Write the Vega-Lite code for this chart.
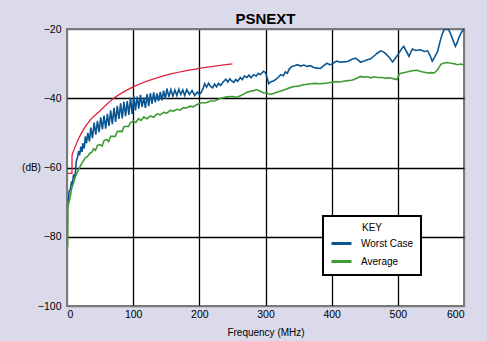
{
  "$schema": "https://vega.github.io/schema/vega-lite/v6.json",
  "width": 397,
  "height": 277,
  "autosize": {"type": "none"},
  "padding": {"left": 67, "top": 29, "right": 23, "bottom": 35},
  "background": "#dadaea",
  "title": {"text": "PSNEXT", "fontSize": 15, "fontWeight": "bold", "font": "Liberation Sans", "anchor": "middle", "offset": -3, "color": "black"},
  "config": {
    "view": {"fill": "white", "stroke": "#7a7a7a", "strokeWidth": 2},
    "font": "Liberation Sans",
    "legend": {"strokeWidth": 2}
  },
  "datasets": {
    "meas": [
      {"series": "Worst Case", "f": 2, "db": -71}, {"series": "Worst Case", "f": 3, "db": -67}, {"series": "Worst Case", "f": 5, "db": -66.3}, {"series": "Worst Case", "f": 7, "db": -64}, {"series": "Worst Case", "f": 8, "db": -65}, {"series": "Worst Case", "f": 10, "db": -62}, {"series": "Worst Case", "f": 12, "db": -63}, {"series": "Worst Case", "f": 14, "db": -58.2}, {"series": "Worst Case", "f": 16, "db": -57}, {"series": "Worst Case", "f": 17.6, "db": -55.3}, {"series": "Worst Case", "f": 19, "db": -56.5}, {"series": "Worst Case", "f": 21, "db": -54}, {"series": "Worst Case", "f": 22.7, "db": -55.5}, {"series": "Worst Case", "f": 24, "db": -53}, {"series": "Worst Case", "f": 26, "db": -54.5}, {"series": "Worst Case", "f": 27.7, "db": -51}, {"series": "Worst Case", "f": 29.5, "db": -53}, {"series": "Worst Case", "f": 31.5, "db": -50}, {"series": "Worst Case", "f": 34, "db": -52.5}, {"series": "Worst Case", "f": 36, "db": -48.5}, {"series": "Worst Case", "f": 38.5, "db": -51.5}, {"series": "Worst Case", "f": 41, "db": -47}, {"series": "Worst Case", "f": 43.5, "db": -50.5}, {"series": "Worst Case", "f": 46, "db": -46.5}, {"series": "Worst Case", "f": 48.5, "db": -49.8}, {"series": "Worst Case", "f": 51, "db": -45.5}, {"series": "Worst Case", "f": 53.5, "db": -49}, {"series": "Worst Case", "f": 56, "db": -45}, {"series": "Worst Case", "f": 58.5, "db": -48.8}, {"series": "Worst Case", "f": 61, "db": -44.5}, {"series": "Worst Case", "f": 63.5, "db": -48}, {"series": "Worst Case", "f": 66, "db": -43.5}, {"series": "Worst Case", "f": 68.5, "db": -47.5}, {"series": "Worst Case", "f": 71, "db": -42.8}, {"series": "Worst Case", "f": 73.5, "db": -46.8}, {"series": "Worst Case", "f": 76, "db": -42.2}, {"series": "Worst Case", "f": 78.5, "db": -46}, {"series": "Worst Case", "f": 81, "db": -41.5}, {"series": "Worst Case", "f": 83.5, "db": -45.8}, {"series": "Worst Case", "f": 86, "db": -41}, {"series": "Worst Case", "f": 88.5, "db": -45.2}, {"series": "Worst Case", "f": 91, "db": -40.8}, {"series": "Worst Case", "f": 93.5, "db": -44.8}, {"series": "Worst Case", "f": 96, "db": -39.8}, {"series": "Worst Case", "f": 98.5, "db": -44.5}, {"series": "Worst Case", "f": 101, "db": -39.3}, {"series": "Worst Case", "f": 103.5, "db": -43.5}, {"series": "Worst Case", "f": 106, "db": -39.5}, {"series": "Worst Case", "f": 108.5, "db": -43}, {"series": "Worst Case", "f": 111, "db": -39}, {"series": "Worst Case", "f": 113.5, "db": -42.5}, {"series": "Worst Case", "f": 116, "db": -39.8}, {"series": "Worst Case", "f": 118.5, "db": -42.8}, {"series": "Worst Case", "f": 121, "db": -38.8}, {"series": "Worst Case", "f": 123.5, "db": -42.3}, {"series": "Worst Case", "f": 126, "db": -38.5}, {"series": "Worst Case", "f": 128.5, "db": -41.6}, {"series": "Worst Case", "f": 131, "db": -38.3}, {"series": "Worst Case", "f": 133.5, "db": -41.2}, {"series": "Worst Case", "f": 136, "db": -38.6}, {"series": "Worst Case", "f": 138.5, "db": -40.8}, {"series": "Worst Case", "f": 141, "db": -38.2}, {"series": "Worst Case", "f": 143.5, "db": -40.6}, {"series": "Worst Case", "f": 146, "db": -37.8}, {"series": "Worst Case", "f": 148.5, "db": -40.2}, {"series": "Worst Case", "f": 151, "db": -37.2}, {"series": "Worst Case", "f": 154, "db": -39.6}, {"series": "Worst Case", "f": 157, "db": -37.5}, {"series": "Worst Case", "f": 160, "db": -39.4}, {"series": "Worst Case", "f": 163, "db": -37.6}, {"series": "Worst Case", "f": 166, "db": -39.2}, {"series": "Worst Case", "f": 169, "db": -37.4}, {"series": "Worst Case", "f": 172, "db": -38.9}, {"series": "Worst Case", "f": 175, "db": -37.6}, {"series": "Worst Case", "f": 178, "db": -39.2}, {"series": "Worst Case", "f": 181, "db": -37.5}, {"series": "Worst Case", "f": 185, "db": -38.9}, {"series": "Worst Case", "f": 189, "db": -37.8}, {"series": "Worst Case", "f": 193, "db": -39.2}, {"series": "Worst Case", "f": 197, "db": -38.2}, {"series": "Worst Case", "f": 200, "db": -38.9}, {"series": "Worst Case", "f": 203, "db": -38.3}, {"series": "Worst Case", "f": 206, "db": -37}, {"series": "Worst Case", "f": 208, "db": -35.8}, {"series": "Worst Case", "f": 211, "db": -36.8}, {"series": "Worst Case", "f": 214, "db": -35.7}, {"series": "Worst Case", "f": 217, "db": -36.6}, {"series": "Worst Case", "f": 220, "db": -37.0}, {"series": "Worst Case", "f": 223, "db": -35.9}, {"series": "Worst Case", "f": 226, "db": -36.7}, {"series": "Worst Case", "f": 229, "db": -35.7}, {"series": "Worst Case", "f": 232, "db": -36.3}, {"series": "Worst Case", "f": 236, "db": -35.3}, {"series": "Worst Case", "f": 240, "db": -34.5}, {"series": "Worst Case", "f": 243, "db": -35.3}, {"series": "Worst Case", "f": 246, "db": -34.4}, {"series": "Worst Case", "f": 249, "db": -35.0}, {"series": "Worst Case", "f": 252, "db": -35.4}, {"series": "Worst Case", "f": 255, "db": -34.6}, {"series": "Worst Case", "f": 258, "db": -35.1}, {"series": "Worst Case", "f": 262, "db": -34.0}, {"series": "Worst Case", "f": 265, "db": -34.6}, {"series": "Worst Case", "f": 268, "db": -33.6}, {"series": "Worst Case", "f": 272, "db": -34.0}, {"series": "Worst Case", "f": 275, "db": -33.3}, {"series": "Worst Case", "f": 278, "db": -34.1}, {"series": "Worst Case", "f": 282, "db": -33.2}, {"series": "Worst Case", "f": 286, "db": -33.6}, {"series": "Worst Case", "f": 289, "db": -32.8}, {"series": "Worst Case", "f": 292, "db": -33.2}, {"series": "Worst Case", "f": 297, "db": -32.2}, {"series": "Worst Case", "f": 300, "db": -32.6}, {"series": "Worst Case", "f": 303, "db": -34.5}, {"series": "Worst Case", "f": 305, "db": -35.8}, {"series": "Worst Case", "f": 308, "db": -35.2}, {"series": "Worst Case", "f": 312, "db": -35.0}, {"series": "Worst Case", "f": 316, "db": -34.5}, {"series": "Worst Case", "f": 320, "db": -33.8}, {"series": "Worst Case", "f": 323, "db": -33.2}, {"series": "Worst Case", "f": 327, "db": -33.5}, {"series": "Worst Case", "f": 330, "db": -32.4}, {"series": "Worst Case", "f": 333, "db": -32.8}, {"series": "Worst Case", "f": 336, "db": -31.5}, {"series": "Worst Case", "f": 340, "db": -30.8}, {"series": "Worst Case", "f": 344, "db": -30.6}, {"series": "Worst Case", "f": 348, "db": -30.3}, {"series": "Worst Case", "f": 353, "db": -30.7}, {"series": "Worst Case", "f": 358, "db": -30.4}, {"series": "Worst Case", "f": 363, "db": -30.8}, {"series": "Worst Case", "f": 368, "db": -30.6}, {"series": "Worst Case", "f": 373, "db": -31.1}, {"series": "Worst Case", "f": 378, "db": -31.3}, {"series": "Worst Case", "f": 383, "db": -31.4}, {"series": "Worst Case", "f": 388, "db": -30.6}, {"series": "Worst Case", "f": 393, "db": -29.9}, {"series": "Worst Case", "f": 397, "db": -30.3}, {"series": "Worst Case", "f": 401, "db": -30.1}, {"series": "Worst Case", "f": 405, "db": -29.5}, {"series": "Worst Case", "f": 408, "db": -29.3}, {"series": "Worst Case", "f": 413, "db": -29.6}, {"series": "Worst Case", "f": 418, "db": -29.5}, {"series": "Worst Case", "f": 424, "db": -29.4}, {"series": "Worst Case", "f": 430, "db": -28.8}, {"series": "Worst Case", "f": 436, "db": -28.4}, {"series": "Worst Case", "f": 440, "db": -29.0}, {"series": "Worst Case", "f": 444, "db": -29.6}, {"series": "Worst Case", "f": 450, "db": -29.2}, {"series": "Worst Case", "f": 455, "db": -28.8}, {"series": "Worst Case", "f": 459, "db": -28.6}, {"series": "Worst Case", "f": 464, "db": -27.8}, {"series": "Worst Case", "f": 469, "db": -27}, {"series": "Worst Case", "f": 474, "db": -26.3}, {"series": "Worst Case", "f": 478, "db": -26.6}, {"series": "Worst Case", "f": 482, "db": -27.2}, {"series": "Worst Case", "f": 487, "db": -28.2}, {"series": "Worst Case", "f": 492, "db": -29.5}, {"series": "Worst Case", "f": 496, "db": -28.5}, {"series": "Worst Case", "f": 502, "db": -26.9}, {"series": "Worst Case", "f": 506, "db": -25.6}, {"series": "Worst Case", "f": 509, "db": -25.0}, {"series": "Worst Case", "f": 513, "db": -26.5}, {"series": "Worst Case", "f": 517, "db": -27.9}, {"series": "Worst Case", "f": 520, "db": -26.5}, {"series": "Worst Case", "f": 522, "db": -25.8}, {"series": "Worst Case", "f": 527, "db": -26.2}, {"series": "Worst Case", "f": 534, "db": -26.0}, {"series": "Worst Case", "f": 540, "db": -26.5}, {"series": "Worst Case", "f": 545, "db": -26.3}, {"series": "Worst Case", "f": 549, "db": -27.8}, {"series": "Worst Case", "f": 552, "db": -29.3}, {"series": "Worst Case", "f": 556, "db": -28}, {"series": "Worst Case", "f": 560, "db": -26.5}, {"series": "Worst Case", "f": 564, "db": -23.5}, {"series": "Worst Case", "f": 567, "db": -21.5}, {"series": "Worst Case", "f": 570, "db": -20.2}, {"series": "Worst Case", "f": 574, "db": -20.0}, {"series": "Worst Case", "f": 577, "db": -20.3}, {"series": "Worst Case", "f": 580, "db": -21.5}, {"series": "Worst Case", "f": 584, "db": -23.5}, {"series": "Worst Case", "f": 587, "db": -25.0}, {"series": "Worst Case", "f": 590, "db": -23.8}, {"series": "Worst Case", "f": 592, "db": -22.6}, {"series": "Worst Case", "f": 596, "db": -21.0}, {"series": "Worst Case", "f": 600, "db": -20},
      {"series": "Average", "f": 1, "db": -83}, {"series": "Average", "f": 1.5, "db": -70}, {"series": "Average", "f": 3, "db": -70}, {"series": "Average", "f": 5, "db": -68.3}, {"series": "Average", "f": 7, "db": -66}, {"series": "Average", "f": 10, "db": -64.4}, {"series": "Average", "f": 12, "db": -63}, {"series": "Average", "f": 15, "db": -61.5}, {"series": "Average", "f": 18, "db": -60.5}, {"series": "Average", "f": 20, "db": -59.6}, {"series": "Average", "f": 24, "db": -58.3}, {"series": "Average", "f": 27.7, "db": -57.2}, {"series": "Average", "f": 31, "db": -56.8}, {"series": "Average", "f": 35, "db": -55.8}, {"series": "Average", "f": 38, "db": -55.5}, {"series": "Average", "f": 40, "db": -54.6}, {"series": "Average", "f": 43, "db": -55.0}, {"series": "Average", "f": 46, "db": -53.6}, {"series": "Average", "f": 50, "db": -53.4}, {"series": "Average", "f": 53, "db": -53.8}, {"series": "Average", "f": 56, "db": -52.2}, {"series": "Average", "f": 60, "db": -51.9}, {"series": "Average", "f": 63, "db": -52.5}, {"series": "Average", "f": 66, "db": -51.0}, {"series": "Average", "f": 70, "db": -51}, {"series": "Average", "f": 73, "db": -51.0}, {"series": "Average", "f": 76, "db": -49.6}, {"series": "Average", "f": 80, "db": -49.5}, {"series": "Average", "f": 83, "db": -49.7}, {"series": "Average", "f": 86, "db": -48.2}, {"series": "Average", "f": 90, "db": -48.1}, {"series": "Average", "f": 93, "db": -48.2}, {"series": "Average", "f": 96, "db": -47.0}, {"series": "Average", "f": 100, "db": -46.6}, {"series": "Average", "f": 104, "db": -47.0}, {"series": "Average", "f": 108, "db": -45.9}, {"series": "Average", "f": 112, "db": -46.4}, {"series": "Average", "f": 116, "db": -45.4}, {"series": "Average", "f": 121, "db": -45.9}, {"series": "Average", "f": 126, "db": -45.1}, {"series": "Average", "f": 131, "db": -45.5}, {"series": "Average", "f": 136, "db": -44.5}, {"series": "Average", "f": 141, "db": -44.8}, {"series": "Average", "f": 146, "db": -44.1}, {"series": "Average", "f": 151, "db": -44.3}, {"series": "Average", "f": 156, "db": -43.5}, {"series": "Average", "f": 161, "db": -43.7}, {"series": "Average", "f": 166, "db": -43.2}, {"series": "Average", "f": 171, "db": -43.4}, {"series": "Average", "f": 176, "db": -42.7}, {"series": "Average", "f": 181, "db": -42.8}, {"series": "Average", "f": 186, "db": -42.3}, {"series": "Average", "f": 191, "db": -42.5}, {"series": "Average", "f": 196, "db": -41.9}, {"series": "Average", "f": 203, "db": -41.3}, {"series": "Average", "f": 210, "db": -41.3}, {"series": "Average", "f": 217, "db": -40.8}, {"series": "Average", "f": 224, "db": -40.7}, {"series": "Average", "f": 232, "db": -40.0}, {"series": "Average", "f": 242, "db": -39.6}, {"series": "Average", "f": 250, "db": -39.5}, {"series": "Average", "f": 257, "db": -39.7}, {"series": "Average", "f": 262, "db": -39.3}, {"series": "Average", "f": 267, "db": -38.8}, {"series": "Average", "f": 272, "db": -38.3}, {"series": "Average", "f": 277, "db": -38.0}, {"series": "Average", "f": 282, "db": -37.8}, {"series": "Average", "f": 287, "db": -37.5}, {"series": "Average", "f": 292, "db": -38.0}, {"series": "Average", "f": 297, "db": -38.4}, {"series": "Average", "f": 302, "db": -38.5}, {"series": "Average", "f": 307, "db": -38.9}, {"series": "Average", "f": 312, "db": -38.6}, {"series": "Average", "f": 318, "db": -38.2}, {"series": "Average", "f": 323, "db": -37.9}, {"series": "Average", "f": 330, "db": -37.5}, {"series": "Average", "f": 336, "db": -37.0}, {"series": "Average", "f": 343, "db": -36.6}, {"series": "Average", "f": 350, "db": -36.5}, {"series": "Average", "f": 356, "db": -36.1}, {"series": "Average", "f": 363, "db": -36.0}, {"series": "Average", "f": 368, "db": -35.8}, {"series": "Average", "f": 375, "db": -35.7}, {"series": "Average", "f": 382, "db": -35.8}, {"series": "Average", "f": 388, "db": -35.7}, {"series": "Average", "f": 393, "db": -35.6}, {"series": "Average", "f": 400, "db": -35.4}, {"series": "Average", "f": 406, "db": -35.2}, {"series": "Average", "f": 412, "db": -35.3}, {"series": "Average", "f": 418, "db": -35.1}, {"series": "Average", "f": 424, "db": -34.9}, {"series": "Average", "f": 430, "db": -34.8}, {"series": "Average", "f": 434, "db": -34.6}, {"series": "Average", "f": 440, "db": -34.0}, {"series": "Average", "f": 444, "db": -33.7}, {"series": "Average", "f": 449, "db": -33.9}, {"series": "Average", "f": 454, "db": -33.8}, {"series": "Average", "f": 459, "db": -34.1}, {"series": "Average", "f": 464, "db": -33.8}, {"series": "Average", "f": 470, "db": -34.0}, {"series": "Average", "f": 476, "db": -34.0}, {"series": "Average", "f": 482, "db": -34.2}, {"series": "Average", "f": 488, "db": -34.1}, {"series": "Average", "f": 494, "db": -34.4}, {"series": "Average", "f": 499, "db": -34.6}, {"series": "Average", "f": 502, "db": -33.0}, {"series": "Average", "f": 506, "db": -32.7}, {"series": "Average", "f": 512, "db": -32.5}, {"series": "Average", "f": 518, "db": -32.2}, {"series": "Average", "f": 524, "db": -32.0}, {"series": "Average", "f": 529, "db": -31.9}, {"series": "Average", "f": 535, "db": -32.3}, {"series": "Average", "f": 540, "db": -32.5}, {"series": "Average", "f": 545, "db": -32.7}, {"series": "Average", "f": 550, "db": -32.6}, {"series": "Average", "f": 555, "db": -32.7}, {"series": "Average", "f": 560, "db": -31.8}, {"series": "Average", "f": 565, "db": -30.2}, {"series": "Average", "f": 570, "db": -29.8}, {"series": "Average", "f": 575, "db": -29.7}, {"series": "Average", "f": 580, "db": -29.9}, {"series": "Average", "f": 585, "db": -30.0}, {"series": "Average", "f": 590, "db": -30.3}, {"series": "Average", "f": 595, "db": -30.1}, {"series": "Average", "f": 600, "db": -30.4}
    ],
    "limit": [
      {"f": 0, "db": -61.7}, {"f": 7.5, "db": -61.7}, {"f": 7.6, "db": -56.5}, {"f": 10, "db": -55.2}, {"f": 12.6, "db": -53.9}, {"f": 18, "db": -51.5}, {"f": 25, "db": -49}, {"f": 35, "db": -46.3}, {"f": 50, "db": -43.6}, {"f": 70, "db": -40.1}, {"f": 100, "db": -36.7}, {"f": 150, "db": -33.3}, {"f": 200, "db": -31.4}, {"f": 250, "db": -30.1}
    ]
  },
  "encoding": {
    "x": {"field": "f", "type": "quantitative", "scale": {"domain": [0, 600], "nice": false},
      "axis": {"values": [0, 100, 200, 300, 400, 500, 600], "title": "Frequency (MHz)", "grid": true,
        "gridColor": {"condition": {"test": "datum.value === 0 || datum.value === 600", "value": "#7a7a7a"}, "value": "black"},
        "gridWidth": 1.3, "domain": false, "ticks": false, "labelPadding": 3, "labelFontSize": 10.5, "labelColor": "black",
        "titleFontSize": 10, "titleFontWeight": "normal", "titleColor": "black", "titlePadding": 8}},
    "y": {"field": "db", "type": "quantitative", "scale": {"domain": [-100, -20], "nice": false},
      "axis": {"values": [-100, -80, -60, -40, -20], "title": "(dB)", "grid": true,
        "gridColor": {"condition": {"test": "datum.value === -20 || datum.value === -100", "value": "#7a7a7a"}, "value": "black"},
        "gridWidth": 1.3, "domain": false, "ticks": false, "labelPadding": 6, "labelFontSize": 10.5, "labelColor": "black",
        "titleAngle": 0, "titleX": -36, "titleY": 138, "titleAlign": "center", "titleBaseline": "middle",
        "titleFontSize": 10, "titleFontWeight": "normal", "titleColor": "black"}}
  },
  "layer": [
    {
      "data": {"name": "meas"},
      "mark": {"type": "line", "strokeWidth": 1.6, "clip": true},
      "encoding": {
        "color": {"field": "series", "type": "nominal",
          "scale": {"domain": ["Worst Case", "Average"], "range": ["#0a5692", "#3f9b34"]},
          "legend": {"orient": "none", "legendX": 256, "legendY": 187, "title": "KEY", "titleFontWeight": "normal",
            "titleFontSize": 10, "titleColor": "black", "titleAnchor": "middle", "titlePadding": -1,
            "strokeColor": "black", "fillColor": "white", "padding": 7, "rowPadding": 0,
            "symbolType": "stroke", "symbolSize": 400, "symbolStrokeWidth": 3, "labelFontSize": 10, "labelColor": "black", "labelOffset": 8}}
      }
    },
    {
      "data": {"name": "limit"},
      "mark": {"type": "line", "color": "#e0203c", "strokeWidth": 1.3, "interpolate": "monotone"},
      "encoding": {}
    }
  ]
}
